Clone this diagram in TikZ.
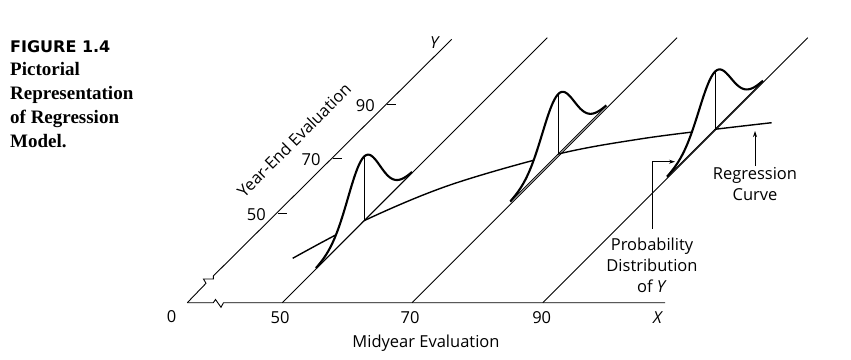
\documentclass[tikz,border=0pt]{standalone}
\usepackage{fontspec}
\setmainfont{Liberation Serif}
\setsansfont{Open Sans}
\newfontfamily\figheadfont{DejaVu Sans}
\usepackage{tikz}
\usepackage{xcolor}
\usetikzlibrary{arrows.meta}
\usetikzlibrary{calc}

\tikzset{
    axisline/.style={line width=0.9pt},
    gridline/.style={line width=0.9pt},
    regline/.style={line width=1.4pt},
    densline/.style={line width=2.1pt},
    meanline/.style={line width=0.8pt},
    callout/.style={line width=0.8pt,-{Stealth[length=6pt,width=4pt]}},
    lbl/.style={font=\sffamily\fontsize{16.5}{21}\selectfont,inner sep=1pt},
    capline/.style={font=\rmfamily\bfseries\fontsize{19}{24}\selectfont,anchor=base west,inner sep=0pt}
}

\begin{document}
\begin{tikzpicture}[x=1pt,y=-1pt]
        \useasboundingbox (0,0) rectangle (851,359);
        \newcommand{\figonefoursigsq}{514}
        \newcommand{\figonefouraxisx}{451.7}
        \newcommand{\figonefouraxisy}{39.3}
        % density sitting on a diagonal: mean x, mean y, peak height
        \newcommand{\figonefourdens}[3]{
            \fill[white] plot[domain=-48:48,samples=90] ({#1+(\x)},{#2-(\x)-#3*exp(-(\x)*(\x)/\figonefoursigsq)}) -- cycle;
            \draw[gridline] ({#1-48},{#2+48}) -- ({#1+48},{#2-48});
            \draw[densline] plot[domain=-48:48,samples=90] ({#1+(\x)},{#2-(\x)-#3*exp(-(\x)*(\x)/\figonefoursigsq)});
            \draw[meanline] (#1,#2) -- (#1,{#2-#3});
        }
        % caption
        \node[font=\figheadfont\bfseries\fontsize{16}{20}\selectfont,anchor=base west,inner sep=0pt] (fighead) at (10,52.5) {FIGURE 1.4};
        \foreach \txt [count=\i] in {Pictorial,Representation,of Regression,Model.}
            \node[capline] (cap\i) at (10,{51+24*\i}) {\txt};
        % axes with breaks
        \draw[axisline] (187.3,302.7) -- (206,283.3) -- (203.5,279) -- (213.3,279) -- (213.3,276) -- (\figonefouraxisx,\figonefouraxisy);
        \draw[axisline] (187.3,302.7) -- (213.3,302.7) -- (215.5,299.5) -- (221,307.3) -- (223.5,302.7) -- (665,302.7);
        \foreach \xs in {282.3,412,542.7}
            \draw[gridline] (\xs,302.7) -- ++(265,-265);
        \foreach \ty/\tv in {213/50,158.3/70,104/90} {
            \draw[axisline] ({\figonefouraxisx-(\ty-\figonefouraxisy)},\ty) -- ++(9,0);
            \node[lbl,anchor=east] (ytick\tv) at ({\figonefouraxisx-(\ty-\figonefouraxisy)-11},{\ty+1.5}) {\tv};
        }
        \node[lbl] (ylab) at (435,43) {\textit{Y}};
        \node[lbl,rotate=45] (ytitle) at (294,140) {Year-End Evaluation};
        \node[lbl] (xtick0) at (171.7,316.7) {0};
        \node[lbl] (xtick50) at (280,318) {50};
        \node[lbl] (xtick70) at (410,318) {70};
        \node[lbl] (xtick90) at (541.7,318) {90};
        \node[lbl] (xlab) at (658,318) {\textit{X}};
        \node[lbl,anchor=base] (xtitle) at (426,347.5) {Midyear Evaluation};
        % regression curve and the three distributions
        \draw[regline] plot[smooth,tension=0.55] coordinates {(292.7,258.3) (364,220.7) (450,185) (558.3,154) (640,139) (715,129.3) (771.7,122.7)};
        \figonefourdens{364}{220.7}{64}
        \figonefourdens{558.3}{154}{60}
        \figonefourdens{715}{129.3}{57.6}
        % callouts
        \node[lbl,align=center,anchor=north] (probtxt) at (652,237) {Probability\\Distribution\\of \textit{Y}};
        \coordinate (probtip) at (675,161.7);
        \draw[callout] ([yshift=8.5pt]probtxt.north) |- (probtip);
        \node[lbl,align=center,anchor=north] (regtxt) at (755,166) {Regression\\Curve};
        \coordinate (regtip) at (755,131);
        \draw[callout] (regtxt.north) -- (regtip);
    \end{tikzpicture}
\end{document}
